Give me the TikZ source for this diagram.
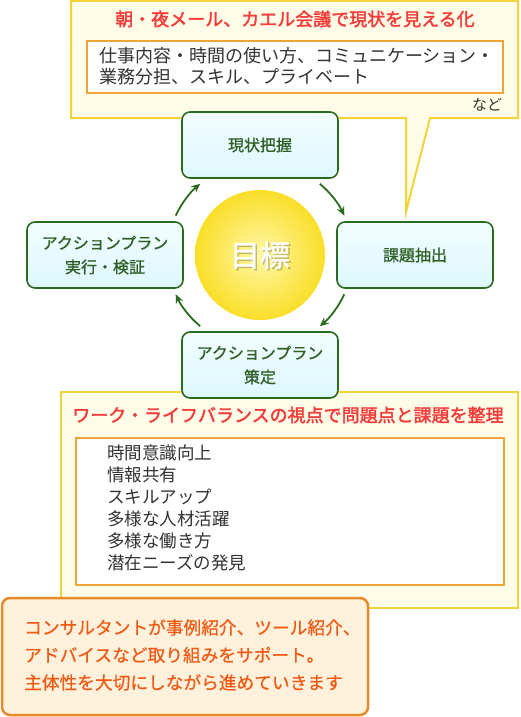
\documentclass[tikz,border=0pt]{standalone}
\usepackage{fontspec}
\setmainfont{Noto Sans CJK JP}
\newfontfamily\titlefont[FakeBold=2]{Noto Sans CJK JP}
\newfontfamily\labelfont[FakeBold=1]{Noto Sans CJK JP}
\newfontfamily\notefont[FakeBold=0.6]{Noto Sans CJK JP}
\usetikzlibrary{positioning,arrows.meta}
\definecolor{lineyellow}{HTML}{F2D33A}
\definecolor{fillyellow}{HTML}{FFFDE7}
\definecolor{lineorange}{HTML}{EFA43A}
\definecolor{titlered}{HTML}{F53B3B}
\definecolor{boxgreen}{HTML}{2B6B1F}
\definecolor{textgreen}{HTML}{2F5F25}
\definecolor{bodygray}{HTML}{333333}
\definecolor{cyantop}{HTML}{F2FEFF}
\definecolor{cyanbottom}{HTML}{DDF7FF}
\definecolor{peachfill}{HTML}{FFF1DC}
\definecolor{peachline}{HTML}{E8892A}
\definecolor{peachtext}{HTML}{F05A14}
\tikzset{
  cyclebox/.style={draw=boxgreen,line width=1.6pt,rounded corners=8pt,
    minimum width=156pt,minimum height=66pt,top color=cyantop,bottom color=cyanbottom,
    text=textgreen,font=\labelfont\fontsize{16}{24}\selectfont,align=center,inner sep=0pt},
  cyclearrow/.style={draw=boxgreen,line width=1.8pt,-{Stealth[length=9pt,width=8pt]}},
  redtitle/.style={text=titlered,font=\titlefont\fontsize{18}{21}\selectfont,inner sep=0pt},
  bodytext/.style={text=bodygray,font=\fontsize{17.5}{21}\selectfont,align=left,inner sep=0pt,anchor=west}
}
\begin{document}
\begin{tikzpicture}[x=1pt,y=-1pt]
\useasboundingbox (0,0) rectangle (520,717);

% callout above the cycle
\draw[lineyellow,line width=2pt,fill=fillyellow]
  (71,1) -- (518,1) -- (518,118) -- (430,118) -- (406,212) -- (406,118) -- (71,118) -- cycle;
\node[redtitle] (seetitle) at (295,19) {朝・夜メール、カエル会議で現状を見える化};
\draw[lineorange,line width=2pt,fill=white] (87,41) rectangle (503,93);
\node[bodytext,font=\fontsize{18}{21}\selectfont] (seelist) at (99,66) {仕事内容・時間の使い方、コミュニケーション・\\業務分担、スキル、プライベート};
\node[text=bodygray,font=\fontsize{15}{18}\selectfont,inner sep=0pt] (etc) at (487,105) {など};

% box below the cycle
\draw[lineyellow,line width=2pt,fill=fillyellow] (61,392) rectangle (518,608);
\node[redtitle] (wltitle) at (288,415) {ワーク・ライフバランスの視点で問題点と課題を整理};
\draw[lineorange,line width=2pt,fill=white] (76,438) rectangle (504,585);
\node[bodytext,font=\fontsize{17.5}{22}\selectfont] (wllist) at (107,508)
  {時間意識向上\\情報共有\\スキルアップ\\多様な人材活躍\\多様な働き方\\潜在ニーズの発見};

% the cycle
\node[circle,minimum size=130pt,inner sep=0pt,inner color={rgb,255:red,255;green,248;blue,170},
  outer color={rgb,255:red,250;green,222;blue,40}] (goal) at (260,255) {};
\node[text=black,opacity=0.2,font=\labelfont\fontsize{30}{31}\selectfont] at ([shift={(1.5,1.5)}]goal.center) {目標};
\node[text=white,font=\labelfont\fontsize{30}{31}\selectfont] (goaltext) at (goal.center) {目標};

\node[cyclebox] (grasp) at (260,145) {現状把握};
\node[cyclebox] (issue) at (415,255) {課題抽出};
\node[cyclebox] (plan) at (260,365) {アクションプラン\\策定};
\node[cyclebox] (check) at (105,255) {アクションプラン\\実行・検証};

\draw[cyclearrow] (goal.center) ++(-50:93) arc[start angle=-50,end angle=-25,radius=93];
\draw[cyclearrow] (goal.center) ++(25:93) arc[start angle=25,end angle=50,radius=93];
\draw[cyclearrow] (goal.center) ++(130:93) arc[start angle=130,end angle=155,radius=93];
\draw[cyclearrow] (goal.center) ++(205:93) arc[start angle=205,end angle=230,radius=93];

% consultant support
\draw[peachline,line width=2.5pt,fill=peachfill,rounded corners=8pt] (2,598) rectangle (368,715);
\node[bodytext,text=peachtext,font=\notefont\fontsize{17.7}{27.5}\selectfont] (support) at (24,655)
  {コンサルタントが事例紹介、ツール紹介、\\アドバイスなど取り組みをサポート。\\主体性を大切にしながら進めていきます};
\end{tikzpicture}
\end{document}
